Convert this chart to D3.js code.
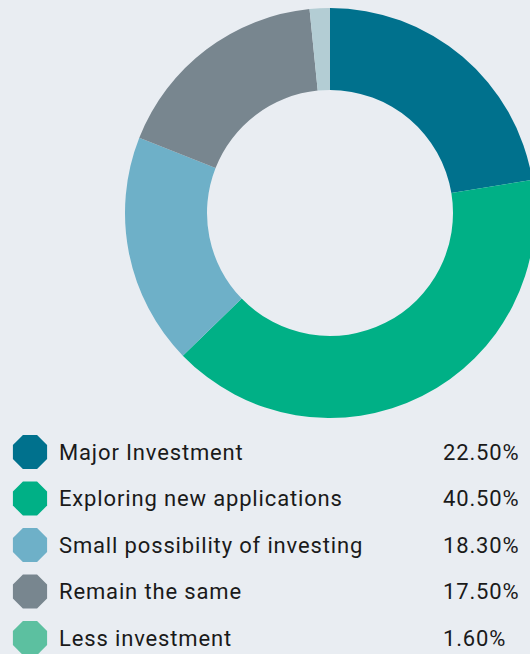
<!DOCTYPE html>
<html>
<head>
<meta charset="utf-8">
<script src="https://cdn.jsdelivr.net/npm/d3@7"></script>
<style>
  html, body { margin: 0; padding: 0; background: #e9edf2; }
  svg { display: block; }
  .lg { font-family: Roboto, sans-serif; font-size: 22px; letter-spacing: 0.85px; fill: #1a1a1a; }
</style>
</head>
<body>
<div id="chart"></div>
<script>
const categories = ['Major Investment', 'Exploring new applications', 'Small possibility of investing', 'Remain the same', 'Less investment'];
const values = [22.5, 40.5, 18.3, 17.5, 1.6];
const valueLabels = ['22.50%', '40.50%', '18.30%', '17.50%', '1.60%'];
const sliceColors = ['#00718d', '#00b086', '#6eb0c8', '#78868f', '#b3cdd4'];
const legendColors = ['#00718d', '#00b086', '#6eb0c8', '#78868f', '#5cc0a0'];

const width = 530, height = 654;
const svg = d3.select('#chart').append('svg')
  .attr('width', width)
  .attr('height', height);

const cx = 330, cy = 213, outerR = 205, innerR = 123;

const pie = d3.pie().sort(null).value(d => d);
const arc = d3.arc().innerRadius(innerR).outerRadius(outerR);

svg.append('g')
  .attr('transform', `translate(${cx},${cy})`)
  .selectAll('path')
  .data(pie(values))
  .join('path')
  .attr('d', arc)
  .attr('fill', (d, i) => sliceColors[i]);

// legend
const rowY = d3.scalePoint().domain(categories).range([452, 638]);

// octagon with flat top/bottom
const octR = 18.5;
const octagon = d3.line()(d3.range(8).map(k => {
  const a = Math.PI / 8 + k * Math.PI / 4;
  return [octR * Math.cos(a), octR * Math.sin(a)];
})) + 'Z';

const rows = svg.append('g')
  .selectAll('g')
  .data(categories)
  .join('g')
  .attr('transform', d => `translate(0,${rowY(d)})`);

rows.append('path')
  .attr('d', octagon)
  .attr('transform', 'translate(30,0)')
  .attr('fill', (d, i) => legendColors[i]);

rows.append('text')
  .attr('class', 'lg')
  .attr('x', 59)
  .attr('dy', '0.35em')
  .text(d => d);

rows.append('text')
  .attr('class', 'lg')
  .attr('x', 443)
  .attr('dy', '0.35em')
  .text((d, i) => valueLabels[i]);
</script>
</body>
</html>
